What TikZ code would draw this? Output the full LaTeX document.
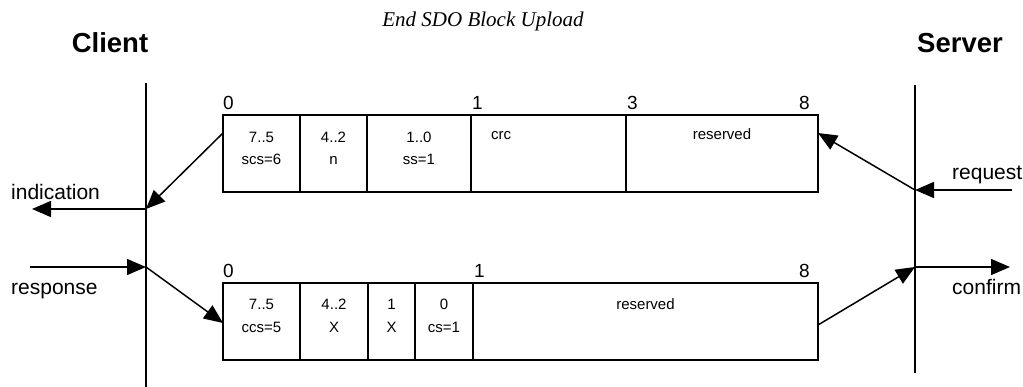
\documentclass[tikz,border=0pt]{standalone}
\usepackage{fontspec}
\setmainfont{Liberation Sans}
\newfontfamily\serifit{Liberation Serif}
\usepackage{tikz}
\usetikzlibrary{arrows.meta, positioning}

\tikzset{
  field/.style={draw, line width=1.5pt, minimum height=77pt, inner sep=0pt, outer sep=0pt, anchor=north west},
  celltext/.style={anchor=base, inner sep=0pt, font=\fontsize{15}{15}\selectfont},
  bytenum/.style={inner sep=0pt, font=\fontsize{19}{19}\selectfont},
  party/.style={anchor=base, inner sep=0pt, font=\fontsize{27.5}{27.5}\selectfont\bfseries},
  service/.style={anchor=base west, inner sep=0pt, font=\fontsize{21}{21}\selectfont},
  lifeline/.style={line width=1.5pt},
  msg/.style={line width=1.5pt, -{Triangle[length=19pt,width=16pt]}}
}

\begin{document}
\begin{tikzpicture}[x=1pt, y=-1pt]
  \useasboundingbox (0,0) rectangle (1023,387);

  \node[anchor=base, inner sep=0pt, font=\fontsize{21}{21}\selectfont\serifit\itshape] (title) at (483,27) {End SDO Block Upload};
  \node[party] (client) at (110,53) {Client};
  \node[party] (server) at (960,53) {Server};

  % lifelines
  \coordinate (clienttop) at (146,83);
  \coordinate (clientbot) at (146,387);
  \coordinate (servertop) at (915,85);
  \coordinate (serverbot) at (915,373);
  \draw[lifeline] (clienttop) -- (clientbot);
  \draw[lifeline] (servertop) -- (serverbot);

  % server frame
  \node[field, minimum width=77pt] (s1) at (223,115) {};
  \node[field, minimum width=67pt, right=0pt of s1] (s2) {};
  \node[field, minimum width=104pt, right=0pt of s2] (s3) {};
  \node[field, minimum width=155pt, right=0pt of s3] (s4) {};
  \node[field, minimum width=192pt, right=0pt of s4] (s5) {};

  \node[celltext] (s1a) at ([yshift=-28pt]s1.north) {7..5};
  \node[celltext] (s1b) at ([yshift=-49.5pt]s1.north) {scs=6};
  \node[celltext] (s2a) at ([yshift=-28pt]s2.north) {4..2};
  \node[celltext] (s2b) at ([yshift=-49.5pt]s2.north) {n};
  \node[celltext] (s3a) at ([yshift=-28pt]s3.north) {1..0};
  \node[celltext] (s3b) at ([yshift=-49.5pt]s3.north) {ss=1};
  \node[celltext, anchor=base west] (s4a) at ([xshift=20pt, yshift=-25pt]s4.north west) {crc};
  \node[celltext] (s5a) at ([yshift=-25pt]s5.north) {reserved};

  \node[bytenum, anchor=base west] (sn0) at ([yshift=5pt]s1.north west) {0};
  \node[bytenum, anchor=base west] (sn1) at ([xshift=1pt, yshift=5pt]s4.north west) {1};
  \node[bytenum, anchor=base west] (sn3) at ([xshift=1pt, yshift=5pt]s5.north west) {3};
  \node[bytenum, anchor=base east] (sn8) at ([xshift=-8pt, yshift=5pt]s5.north east) {8};

  % client frame
  \node[field, minimum width=77pt] (c1) at (223,283) {};
  \node[field, minimum width=68pt, right=0pt of c1] (c2) {};
  \node[field, minimum width=47pt, right=0pt of c2] (c3) {};
  \node[field, minimum width=58pt, right=0pt of c3] (c4) {};
  \node[field, minimum width=345pt, right=0pt of c4] (c5) {};

  \node[celltext] (c1a) at ([yshift=-27pt]c1.north) {7..5};
  \node[celltext] (c1b) at ([yshift=-49.5pt]c1.north) {ccs=5};
  \node[celltext] (c2a) at ([yshift=-27pt]c2.north) {4..2};
  \node[celltext] (c2b) at ([yshift=-49.5pt]c2.north) {X};
  \node[celltext] (c3a) at ([yshift=-27pt]c3.north) {1};
  \node[celltext] (c3b) at ([yshift=-49.5pt]c3.north) {X};
  \node[celltext] (c4a) at ([yshift=-27pt]c4.north) {0};
  \node[celltext] (c4b) at ([yshift=-49.5pt]c4.north) {cs=1};
  \node[celltext] (c5a) at ([yshift=-27pt]c5.north) {reserved};

  \node[bytenum, anchor=base west] (cn0) at ([yshift=5pt]c1.north west) {0};
  \node[bytenum, anchor=base west] (cn1) at ([xshift=1pt, yshift=5pt]c5.north west) {1};
  \node[bytenum, anchor=base east] (cn8) at ([xshift=-8pt, yshift=5pt]c5.north east) {8};

  % service primitives
  \coordinate (indtip) at (146,209);
  \coordinate (indend) at (32,209);
  \coordinate (respstart) at (30,267);
  \coordinate (resptip) at (146,267);
  \coordinate (reqstart) at (1012,190);
  \coordinate (reqtip) at (915,190);
  \coordinate (conftip) at (915,267);
  \coordinate (confend) at (1010,267);

  \draw[msg] ([yshift=20.5pt]s1.west) -- (indtip);
  \draw[msg] (indtip) -- (indend);
  \draw[msg] (respstart) -- (resptip);
  \draw[msg] (resptip) -- ([yshift=-1.5pt]c1.west);
  \draw[msg] (reqstart) -- (reqtip);
  \draw[msg] (reqtip) -- ([yshift=20.5pt]s5.east);
  \draw[msg] ([yshift=-3.5pt]c5.east) -- (conftip);
  \draw[msg] (conftip) -- (confend);

  \node[service] (indication) at (11,200) {indication};
  \node[service] (response) at (11,295) {response};
  \node[service] (request) at (952,180) {request};
  \node[service] (confirm) at (952,295) {confirm};
\end{tikzpicture}
\end{document}
